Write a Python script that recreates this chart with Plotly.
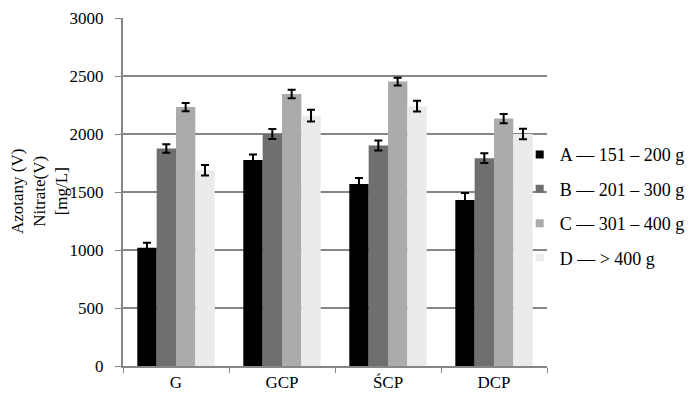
import plotly.graph_objects as go

categories = ["G", "GCP", "ŚCP", "DCP"]
series_names = ["A — 151 – 200 g", "B — 201 – 300 g", "C — 301 – 400 g", "D — > 400 g"]
values_A = [1020, 1775, 1570, 1430]
values_B = [1875, 2000, 1900, 1792]
values_C = [2232, 2345, 2452, 2133]
values_D = [1688, 2158, 2240, 2000]
errors_A = [42, 48, 50, 62]
errors_B = [36, 43, 43, 43]
errors_C = [35, 37, 33, 40]
errors_D = [45, 50, 46, 45]
colors = ["#000000", "#6f6f6f", "#ababab", "#ebebeb"]
y_ticks = [0, 500, 1000, 1500, 2000, 2500, 3000]

FONT = "Liberation Serif"
fig = go.Figure()
all_vals = [values_A, values_B, values_C, values_D]
all_errs = [errors_A, errors_B, errors_C, errors_D]
for i, (name, vals, errs, col) in enumerate(zip(series_names, all_vals, all_errs, colors)):
    fig.add_trace(go.Bar(
        x=categories, y=vals, name=name, marker=dict(color=col, line=dict(width=0)),
        error_y=dict(type="data", array=errs, color="#000000", thickness=2, width=4),
        showlegend=False,
    ))
    fig.add_trace(go.Scatter(
        x=[None], y=[None], mode="markers", name=name,
        marker=dict(symbol="square", size=8, color=col),
        legendgroup=f"g{i}", showlegend=True,
    ))

fig.update_layout(
    width=700, height=402,
    margin=dict(l=115, r=161, t=10, b=44, autoexpand=False),
    paper_bgcolor="white", plot_bgcolor="white",
    barmode="group", bargap=0.27, bargroupgap=0,
    font=dict(family=FONT, size=17, color="#000000"),
    showlegend=True,
    legend=dict(xref="container", yref="container", x=0.731, xanchor="left",
                y=0.507, yanchor="middle",
                font=dict(family=FONT, size=18), tracegroupgap=8,
                itemwidth=30, bgcolor="rgba(0,0,0,0)"),
    xaxis=dict(type="category", automargin=False, showline=True, linecolor="#868686", linewidth=2,
               ticks="outside", tickson="boundaries", ticklen=5, tickcolor="#868686",
               tickwidth=1, showgrid=False, tickfont=dict(family=FONT, size=17)),
    yaxis=dict(range=[0, 3000], automargin=False, tickvals=y_ticks, showline=True, linecolor="#868686",
               linewidth=2, ticks="outside", ticklen=6, tickcolor="#868686",
               ticklabelstandoff=8,
               showgrid=True, gridcolor="#868686", gridwidth=2, zeroline=False,
               tickfont=dict(family=FONT, size=17)),
)
fig.add_annotation(text="Azotany (V)<br>Nitrate(V)<br>[mg/L]", xref="paper", yref="paper",
                   x=0, y=0.5, xanchor="center", yanchor="middle", xshift=-84,
                   textangle=-90, showarrow=False, font=dict(family=FONT, size=17))
fig.write_html("out.html")
